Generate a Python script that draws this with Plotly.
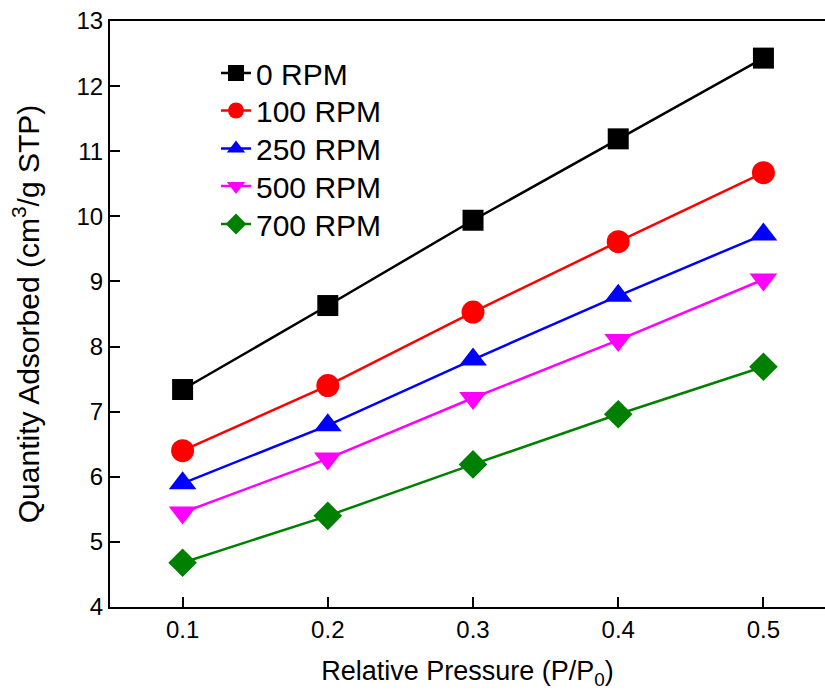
import plotly.graph_objects as go

# Relative pressure points and adsorbed quantity for each stirring speed
pressure = [0.1, 0.2, 0.3, 0.4, 0.5]
rpm_0 = [7.34, 8.63, 9.94, 11.19, 12.43]
rpm_100 = [6.40, 7.40, 8.53, 9.61, 10.67]
rpm_250 = [5.90, 6.79, 7.80, 8.78, 9.72]
rpm_500 = [5.45, 6.28, 7.21, 8.10, 9.03]
rpm_700 = [4.68, 5.40, 6.19, 6.96, 7.69]

series_names = ["0 RPM", "100 RPM", "250 RPM", "500 RPM", "700 RPM"]
series_values = [rpm_0, rpm_100, rpm_250, rpm_500, rpm_700]
colors = ["#000000", "#FF0000", "#0000FF", "#FF00FF", "#008000"]
symbols = ["square", "circle", "triangle-up", "triangle-down", "diamond"]
sizes = [21, 23, 24, 24, 22]
x_ticks = ["0.1", "0.2", "0.3", "0.4", "0.5"]

FONT = "Liberation Sans"

W, H = 825, 690
ml, mr, mt, mb = 110, 0, 21, 83
plot_w = W - ml - mr
plot_h = H - mt - mb

# one legend box per series so the rows can be spaced freely
legend_rows_px = [73, 110.5, 148.5, 186, 224]
legend_ids = ["legend", "legend2", "legend3", "legend4", "legend5"]

fig = go.Figure()
for name, vals, col, sym, sz, lid in zip(series_names, series_values, colors, symbols, sizes, legend_ids):
    fig.add_trace(go.Scatter(
        x=pressure, y=vals, name=name, mode="lines+markers",
        line=dict(color=col, width=2.5),
        marker=dict(symbol=sym, size=sz, color=col, line=dict(width=0)),
        legend=lid,
    ))

legend_layout = {}
for lid, row in zip(legend_ids, legend_rows_px):
    legend_layout[lid] = dict(
        x=(216 - ml) / plot_w, xanchor="left",
        y=(H - mb - row) / plot_h, yanchor="middle",
        font=dict(size=30, family=FONT),
        bgcolor="rgba(0,0,0,0)", borderwidth=0,
        itemsizing="trace",
    )

fig.update_layout(
    width=W, height=H,
    margin=dict(l=ml, r=mr, t=mt, b=mb),
    paper_bgcolor="white", plot_bgcolor="white",
    font=dict(family=FONT, color="black"),
    showlegend=True,
    xaxis=dict(
        range=[0.05, 0.5424], tickvals=pressure, ticktext=x_ticks,
        ticks="inside", ticklen=10, tickwidth=2, tickcolor="black",
        showline=True, linewidth=2, linecolor="black", mirror=True,
        showgrid=False, zeroline=False,
        tickfont=dict(size=24, family=FONT),
        title=dict(text="Relative Pressure (P/P<sub>0</sub>)", font=dict(size=27, family=FONT), standoff=22),
    ),
    yaxis=dict(
        range=[4, 13], dtick=1, tick0=4,
        ticks="inside", ticklen=10, tickwidth=2, tickcolor="black",
        showline=True, linewidth=2, linecolor="black", mirror=False,
        showgrid=False, zeroline=False,
        tickfont=dict(size=24, family=FONT),
        title=dict(text="Quantity Adsorbed (cm<sup>3</sup>/g STP)", font=dict(size=30, family=FONT), standoff=28),
    ),
    **legend_layout,
)

fig.write_html("out.html")
